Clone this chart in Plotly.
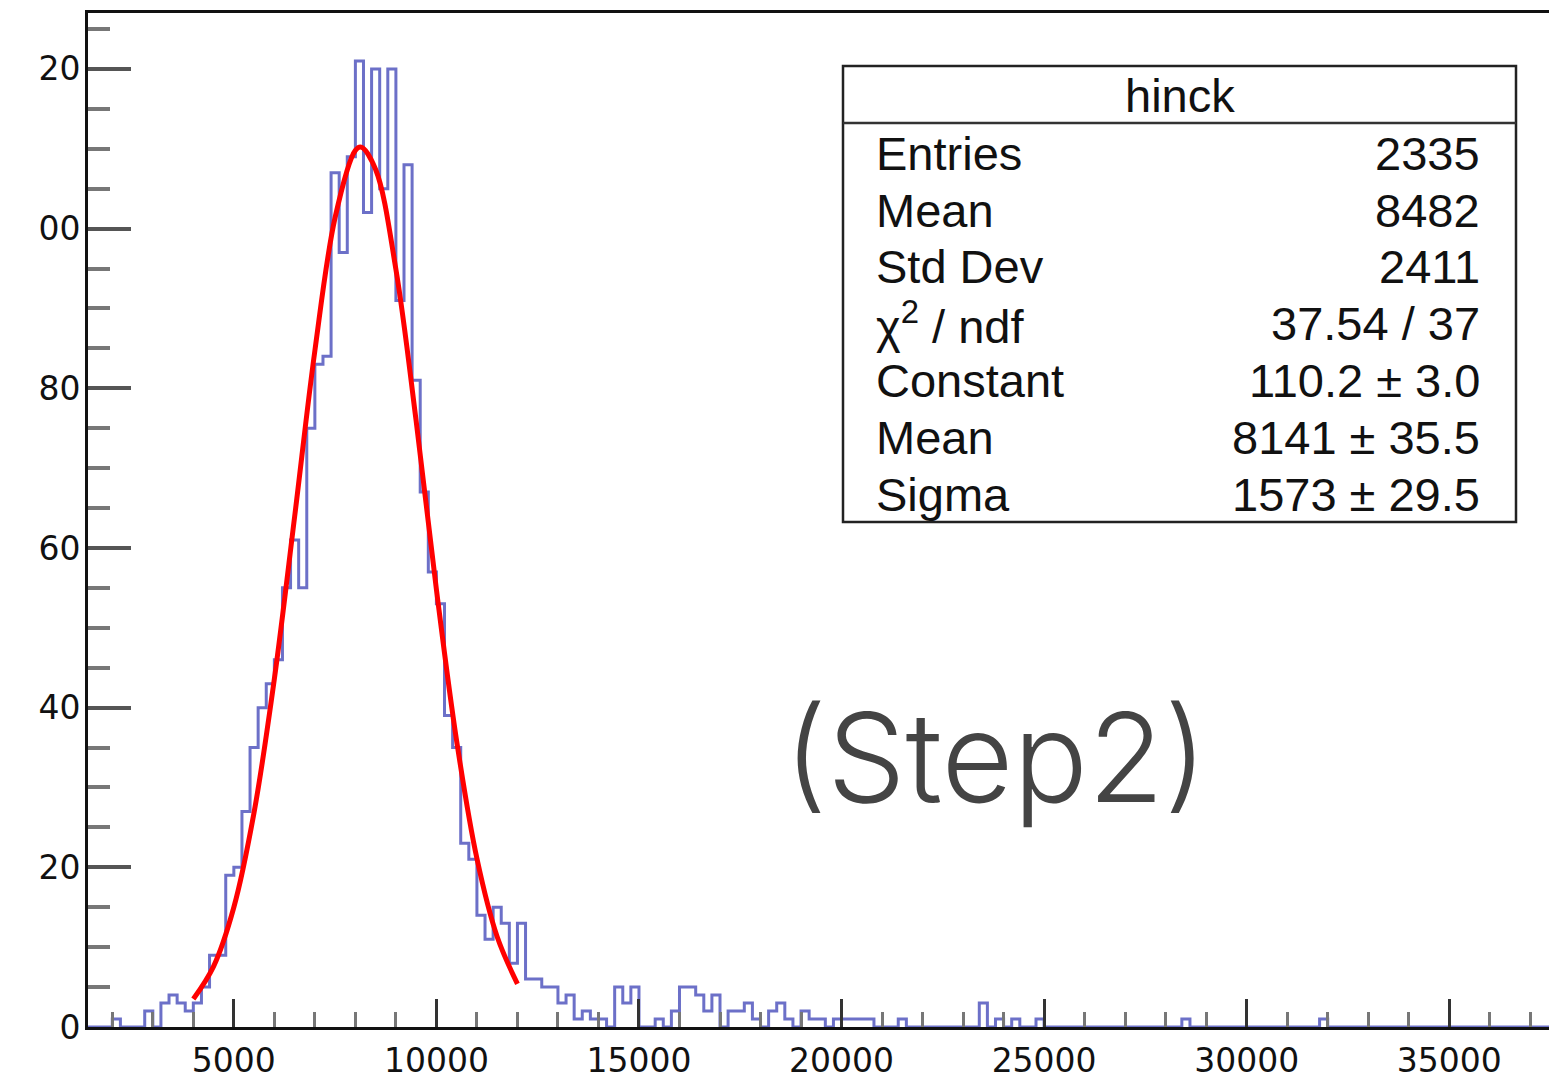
import numpy as np
import plotly.graph_objects as go

# histogram "hinck": fixed-width bins starting at bin_start
bin_start = 1400
bin_width = 200
hist_end = 40000
counts = [
    0, 0, 0, 1, 0, 0, 0, 2, 0, 3,            # 1400 - 3200
    4, 3, 2, 3, 5, 9, 9, 19, 20, 27,         # 3400 - 5200
    35, 40, 43, 46, 55, 61, 55, 75, 83, 84,  # 5400 - 7200
    107, 97, 109, 121, 102, 120, 105, 120, 91, 108,  # 7400 - 9200
    81, 67, 57, 53, 39, 35, 23, 21, 14, 11,  # 9400 - 11200
    15, 13, 8, 13, 6, 6, 5, 5, 3, 4,         # 11400 - 13200
    1, 2, 1, 1, 0, 5, 3, 5, 0, 0,            # 13400 - 15200
    1, 0, 2, 5, 5, 4, 2, 4, 0, 2,            # 15400 - 17200
    2, 3, 1, 0, 2, 3, 1, 0, 2, 1,            # 17400 - 19200
    1, 0, 1, 1, 1, 1, 1, 0, 0, 0,            # 19400 - 21200
    1, 0, 0, 0, 0, 0, 0, 0, 0, 0,            # 21400 - 23200
    3, 0, 1, 0, 1, 0, 0, 1, 0, 0,            # 23400 - 25200
    0, 0, 0, 0, 0, 0, 0, 0, 0, 0,            # 25400 - 27200
    0, 0, 0, 0, 0, 1, 0, 0, 0, 0,            # 27400 - 29200
    0, 0, 0, 0, 0, 0, 0, 0, 0, 0,            # 29400 - 31200
    0, 0, 1,                                 # 31400 - 31800
]

# gaussian fit curve
fit_x = [4000, 4500, 5000, 5500, 6000, 6500, 7000, 7500, 8000, 8141,
         8500, 9000, 9500, 10000, 10500, 11000, 11500, 12000]
fit_y = [3.5, 7.6, 15.0, 26.9, 43.6, 63.9, 84.7, 101.4, 109.8, 110.2,
         107.4, 94.9, 75.9, 54.8, 35.8, 21.1, 11.3, 5.4]

stats_title = "hinck"
stats_labels = ["Entries", "Mean", "Std Dev", "χ<sup>2</sup> / ndf",
                "Constant", "Mean", "Sigma"]
stats_values = ["2335", "8482", "2411", "37.54 / 37",
                "110.2 ± 3.0", "8141 ± 35.5", "1573 ± 29.5"]

n_pad = (hist_end - bin_start) // bin_width - len(counts)
all_counts = counts + [0] * n_pad
edges = bin_start + bin_width * np.arange(len(all_counts) + 1)

# page has an 8px body margin, so the figure sits at (8, 8)
OFF = 8
PAGE_W, PAGE_H = 1557, 1090
W, H = PAGE_W - OFF, PAGE_H - OFF
# plot frame in page pixels: x 88 -> 1557, y 13 -> 1027
L, R, T, B = 88 - OFF, 0, 13 - OFF, PAGE_H - 1027


def px_x(px):
    return (px - OFF - L) / (W - L - R)


def px_y(py):
    return (H - B - (py - OFF)) / (H - T - B)


fig = go.Figure()
fig.add_trace(go.Scatter(
    x=edges, y=all_counts + [all_counts[-1]],
    mode="lines", line=dict(shape="hv", color="#6c70c8", width=3),
    hoverinfo="skip"))
fig.add_trace(go.Scatter(
    x=fit_x, y=fit_y, mode="lines",
    line=dict(shape="spline", color="#ff0000", width=5),
    hoverinfo="skip"))

tick_font = dict(family="DejaVu Sans", size=33, color="#111")
stat_font = dict(family="Liberation Sans", size=47, color="#111")

fig.update_layout(
    width=W, height=H,
    margin=dict(l=L, r=R, t=T, b=B, pad=0, autoexpand=False),
    paper_bgcolor="white", plot_bgcolor="white",
    showlegend=False,
    xaxis=dict(
        range=[1400, 37660], showgrid=False, zeroline=False,
        automargin=False,
        showline=True, linecolor="#111", linewidth=3, mirror=True,
        tickvals=[5000, 10000, 15000, 20000, 25000, 30000, 35000],
        tickformat="d",
        ticks="inside", ticklen=28, tickwidth=3, tickcolor="#333",
        minor=dict(ticks="inside", dtick=1000, tick0=0, ticklen=15,
                   tickwidth=3, tickcolor="#777"),
        tickfont=tick_font, ticklabelstandoff=2),
    yaxis=dict(
        range=[0, 127], showgrid=False, zeroline=False,
        automargin=False,
        showline=True, linecolor="#111", linewidth=3, mirror=False,
        tick0=0, dtick=20,
        ticks="inside", ticklen=43, tickwidth=3.5, tickcolor="#555",
        minor=dict(ticks="inside", dtick=5, tick0=0, ticklen=22,
                   tickwidth=3.5, tickcolor="#777"),
        tickfont=tick_font, ticklabelstandoff=-2),
)

# the source picture is cropped just left of the y labels
fig.add_shape(type="rect", xref="paper", yref="paper", layer="above",
              x0=px_x(0), x1=px_x(38), y0=px_y(PAGE_H), y1=px_y(0),
              line=dict(width=0), fillcolor="white")

# stats box
fig.add_shape(type="rect", xref="paper", yref="paper",
              x0=px_x(843), x1=px_x(1516), y0=px_y(522), y1=px_y(66),
              line=dict(color="#222", width=2.5), fillcolor="white")
fig.add_shape(type="line", xref="paper", yref="paper",
              x0=px_x(843), x1=px_x(1516), y0=px_y(123), y1=px_y(123),
              line=dict(color="#333", width=2.5))
fig.add_annotation(xref="paper", yref="paper", x=px_x(1180), y=px_y(96),
                   text=stats_title, showarrow=False, font=stat_font,
                   xanchor="center", yanchor="middle")
row_y = [153, 210, 267, 323, 381, 437, 494]
for lab, val, ry in zip(stats_labels, stats_values, row_y):
    fig.add_annotation(xref="paper", yref="paper", x=px_x(874), y=px_y(ry),
                       text=lab, showarrow=False, font=stat_font,
                       xanchor="left", yanchor="middle")
    fig.add_annotation(xref="paper", yref="paper", x=px_x(1482), y=px_y(ry),
                       text=val, showarrow=False, font=stat_font,
                       xanchor="right", yanchor="middle")

fig.add_annotation(xref="paper", yref="paper", x=px_x(995), y=px_y(757),
                   text="(Step2)", showarrow=False,
                   font=dict(family="Inter", size=124, color="#444",
                             weight=300),
                   xanchor="center", yanchor="middle")

fig.write_html("out.html")
